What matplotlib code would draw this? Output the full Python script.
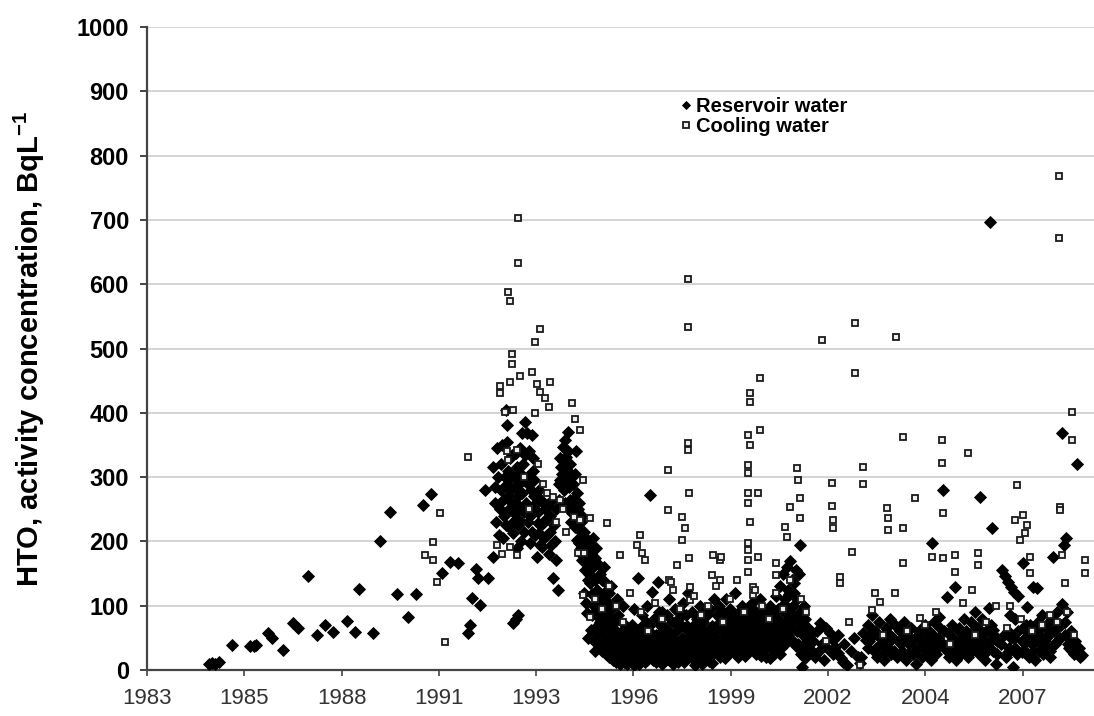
import numpy as np
import matplotlib.pyplot as plt

# ---- data (decimal year, Bq/L) ----
res_early = [(1984.75, 9), (1984.82, 11), (1984.90, 10), (1985.02, 12), (1985.39, 39),
             (1985.90, 37), (1986.02, 38), (1986.08, 39), (1986.40, 58), (1986.52, 50),
             (1986.83, 31), (1987.10, 73), (1987.25, 65), (1987.53, 146), (1987.79, 54),
             (1988.00, 70), (1988.23, 59), (1988.63, 76), (1988.85, 59), (1988.97, 126),
             (1989.37, 57), (1989.56, 200), (1989.85, 246), (1990.03, 119), (1990.34, 82),
             (1990.57, 118), (1990.77, 257), (1991.00, 274), (1991.30, 151), (1991.53, 168),
             (1991.75, 166), (1992.03, 58), (1992.09, 70), (1992.15, 112), (1992.26, 157),
             (1992.31, 143), (1992.37, 101), (1992.60, 143), (1992.74, 176), (1992.51, 280),
             (1993.30, 73), (1993.44, 86), (1993.37, 80)]

res_peak = [(1992.75, 316), (1992.80, 260), (1992.83, 230), (1992.88, 300), (1992.92, 250),
            (1992.95, 280), (1993.00, 350), (1993.02, 205), (1993.05, 240), (1993.10, 404),
            (1993.12, 381), (1993.14, 290), (1993.17, 270), (1993.19, 222), (1993.22, 330),
            (1993.25, 300), (1993.28, 260), (1993.30, 213), (1993.33, 244), (1993.36, 285),
            (1993.38, 337), (1993.41, 190), (1993.44, 270), (1993.47, 233), (1993.50, 306),
            (1993.53, 250), (1993.56, 369), (1993.58, 295), (1993.61, 215), (1993.64, 386),
            (1993.67, 260), (1993.70, 369), (1993.73, 290), (1993.78, 198), (1993.79, 240),
            (1993.82, 365), (1993.85, 310), (1993.88, 270), (1993.91, 249), (1993.97, 176),
            (1993.99, 229), (1994.02, 213), (1994.04, 280), (1994.08, 264), (1994.12, 191),
            (1994.16, 230), (1994.20, 250), (1994.25, 210), (1994.30, 180), (1994.35, 240),
            (1994.40, 265), (1994.43, 143), (1994.47, 200), (1994.50, 171), (1994.57, 124),
            (1994.60, 264), (1994.63, 295), (1994.66, 316), (1994.70, 347), (1994.73, 280),
            (1994.76, 358), (1994.79, 331), (1994.82, 311), (1994.85, 370), (1994.88, 285),
            (1994.91, 264), (1994.94, 300), (1994.97, 244), (1995.00, 264), (1995.03, 222),
            (1995.06, 340), (1995.09, 202), (1995.12, 250), (1995.15, 198), (1995.18, 182),
            (1995.21, 230), (1995.25, 171), (1995.28, 210), (1995.32, 156), (1995.36, 190),
            (1995.40, 140), (1995.44, 175)]

res_peak_extra = [(1992.78, 285), (1992.86, 345), (1992.90, 210), (1992.97, 320), (1993.03, 265),
                  (1993.07, 300), (1993.09, 225), (1993.13, 355), (1993.16, 310), (1993.20, 250),
                  (1993.24, 280), (1993.27, 335), (1993.31, 230), (1993.34, 300), (1993.37, 260),
                  (1993.40, 315), (1993.43, 225), (1993.46, 290), (1993.49, 345), (1993.52, 200),
                  (1993.55, 275), (1993.59, 320), (1993.62, 245), (1993.65, 335), (1993.69, 300),
                  (1993.72, 230), (1993.75, 340), (1993.81, 280), (1993.84, 215), (1993.87, 330),
                  (1993.90, 295), (1993.93, 210), (1993.96, 260), (1994.01, 245), (1994.05, 195),
                  (1994.10, 225), (1994.14, 260), (1994.18, 205), (1994.23, 235), (1994.28, 255),
                  (1994.33, 215), (1994.38, 195), (1994.45, 225), (1994.52, 250), (1994.58, 290),
                  (1994.62, 330), (1994.68, 305), (1994.72, 325), (1994.75, 260), (1994.80, 295),
                  (1994.84, 340), (1994.87, 250), (1994.90, 320), (1994.93, 230), (1994.98, 290),
                  (1995.02, 250), (1995.05, 305), (1995.08, 235), (1995.11, 275), (1995.14, 220),
                  (1995.17, 260), (1995.20, 190), (1995.24, 240), (1995.27, 195), (1995.31, 215),
                  (1995.35, 170), (1995.38, 200), (1995.42, 160)]

res_tail = [(1995.30, 120), (1995.35, 105), (1995.38, 89), (1995.41, 50), (1995.45, 150),
            (1995.48, 135), (1995.50, 62), (1995.52, 118), (1995.55, 160), (1995.58, 100),
            (1995.60, 140), (1995.63, 85), (1995.66, 125), (1995.68, 70), (1995.70, 110),
            (1995.73, 95), (1995.76, 145), (1995.78, 60), (1995.80, 100), (1995.83, 80),
            (1995.86, 120), (1995.88, 45), (1995.90, 90), (1995.93, 70), (1995.96, 105),
            (1995.98, 35), (1996.00, 80), (1996.03, 55), (1996.06, 95), (1996.08, 30),
            (1996.10, 65), (1996.13, 45), (1996.16, 75), (1996.18, 25), (1996.20, 55),
            (1996.23, 40), (1996.26, 85), (1996.28, 20), (1996.30, 50), (1996.33, 35),
            (1996.36, 60), (1996.38, 18), (1996.40, 45), (1996.43, 28), (1996.46, 70),
            (1996.48, 15), (1996.50, 40), (1996.53, 25), (1996.56, 55), (1996.58, 20),
            (1995.62, 175), (1995.85, 160), (1996.05, 130), (1996.22, 110), (1996.40, 100),
            (1995.46, 195), (1995.50, 180), (1995.54, 205), (1995.57, 170), (1995.64, 190),
            (1995.70, 165), (1995.74, 150), (1995.80, 140), (1995.92, 135), (1996.00, 120)]

res_1996_1999 = [(1996.60, 45), (1996.63, 20), (1996.65, 70), (1996.68, 30), (1996.70, 95),
                 (1996.73, 15), (1996.75, 55), (1996.78, 25), (1996.82, 143), (1996.84, 40),
                 (1996.85, 10), (1996.88, 65), (1996.90, 30), (1996.93, 85), (1996.95, 20),
                 (1996.98, 50), (1997.00, 12), (1997.03, 75), (1997.05, 35), (1997.08, 100),
                 (1997.10, 22), (1997.13, 60), (1997.15, 272), (1997.18, 30), (1997.20, 121),
                 (1997.23, 45), (1997.25, 15), (1997.28, 80), (1997.30, 35), (1997.33, 55),
                 (1997.35, 18), (1997.38, 137), (1997.40, 40), (1997.43, 70), (1997.45, 25),
                 (1997.48, 90), (1997.50, 10), (1997.53, 50), (1997.55, 30), (1997.58, 65),
                 (1997.60, 20), (1997.63, 85), (1997.65, 40), (1997.68, 110), (1997.70, 15),
                 (1997.73, 55), (1997.75, 30), (1997.78, 75), (1997.80, 45), (1997.83, 20),
                 (1997.85, 95), (1997.88, 35), (1997.90, 60), (1997.93, 12), (1997.95, 80),
                 (1997.98, 40), (1998.00, 25), (1998.03, 70), (1998.05, 50), (1998.08, 105),
                 (1998.10, 30), (1998.13, 65), (1998.15, 18), (1998.18, 85), (1998.20, 45),
                 (1998.23, 120), (1998.25, 35), (1998.28, 60), (1998.30, 20), (1998.33, 90),
                 (1998.35, 40), (1998.38, 70), (1998.40, 15), (1998.43, 55), (1998.45, 30),
                 (1998.48, 80), (1998.50, 50), (1998.53, 25), (1998.55, 100), (1998.58, 40),
                 (1998.60, 65), (1998.63, 10), (1998.65, 75), (1998.68, 35), (1998.70, 55),
                 (1998.73, 20), (1998.75, 85), (1998.78, 45), (1998.80, 60), (1998.83, 30),
                 (1998.85, 95), (1998.88, 50), (1998.90, 11), (1998.93, 25), (1998.95, 110),
                 (1998.98, 40)]

res_1999_2001 = [(1999.00, 60), (1999.03, 30), (1999.05, 85), (1999.08, 45), (1999.10, 100),
                 (1999.13, 20), (1999.15, 70), (1999.18, 50), (1999.20, 90), (1999.23, 35),
                 (1999.25, 65), (1999.28, 110), (1999.30, 40), (1999.33, 80), (1999.35, 25),
                 (1999.38, 55), (1999.40, 95), (1999.43, 45), (1999.45, 70), (1999.48, 30),
                 (1999.50, 85), (1999.53, 60), (1999.55, 120), (1999.58, 40), (1999.60, 75),
                 (1999.63, 20), (1999.65, 55), (1999.68, 90), (1999.70, 35), (1999.73, 65),
                 (1999.75, 100), (1999.78, 45), (1999.80, 80), (1999.83, 25), (1999.85, 60),
                 (1999.88, 95), (1999.90, 40), (1999.93, 70), (1999.95, 30), (1999.98, 85),
                 (2000.00, 50), (2000.03, 105), (2000.05, 35), (2000.08, 75), (2000.10, 55),
                 (2000.13, 90), (2000.15, 25), (2000.18, 65), (2000.20, 45), (2000.23, 80),
                 (2000.25, 110), (2000.28, 40), (2000.30, 70), (2000.33, 30), (2000.35, 95),
                 (2000.38, 55), (2000.40, 75), (2000.43, 20), (2000.45, 60), (2000.48, 85),
                 (2000.50, 45), (2000.53, 100), (2000.55, 35), (2000.58, 70), (2000.60, 50),
                 (2000.63, 90), (2000.65, 25), (2000.68, 65), (2000.70, 115), (2000.73, 40),
                 (2000.75, 80), (2000.78, 55), (2000.80, 130), (2000.83, 35), (2000.85, 95),
                 (2000.88, 60), (2000.90, 150), (2000.93, 45), (2000.95, 110), (2000.98, 75),
                 (2001.00, 160), (2001.03, 55), (2001.05, 125), (2001.08, 90), (2001.10, 170),
                 (2001.13, 65), (2001.15, 140), (2001.18, 100), (2001.20, 120), (2001.23, 80),
                 (2001.25, 155), (2001.28, 60), (2001.30, 110), (2001.33, 40), (2001.38, 194),
                 (2001.38, 90), (2001.40, 70), (2001.43, 5), (2001.45, 55), (2001.48, 100),
                 (2001.50, 35), (2001.53, 80), (2001.55, 50), (2001.58, 25), (2001.60, 65),
                 (2001.63, 40), (2001.66, 55), (2001.70, 30)]

res_low_extra = [(1995.52, 85), (1995.57, 45), (1995.61, 30), (1995.65, 100), (1995.69, 55),
                 (1995.72, 40), (1995.75, 75), (1995.79, 30), (1995.82, 115), (1995.87, 65),
                 (1995.91, 25), (1995.94, 50), (1995.97, 85), (1996.01, 20), (1996.04, 40),
                 (1996.07, 60), (1996.11, 15), (1996.14, 30), (1996.17, 50), (1996.21, 12),
                 (1996.24, 28), (1996.27, 45), (1996.31, 10), (1996.34, 22), (1996.37, 38),
                 (1996.41, 12), (1996.44, 30), (1996.47, 52), (1996.51, 10), (1996.54, 35),
                 (1996.57, 62), (1996.61, 14), (1996.64, 38), (1996.67, 52), (1996.71, 8),
                 (1996.74, 40), (1996.77, 62), (1996.81, 18), (1996.86, 48), (1996.91, 22),
                 (1996.96, 38), (1997.01, 58), (1997.06, 16), (1997.11, 44), (1997.16, 70),
                 (1997.21, 30), (1997.26, 52), (1997.31, 12), (1997.36, 42), (1997.41, 90),
                 (1997.46, 22), (1997.51, 62), (1997.56, 14), (1997.61, 40), (1997.66, 60),
                 (1997.71, 28), (1997.76, 50), (1997.81, 10), (1997.86, 35), (1997.91, 72),
                 (1997.96, 18), (1998.01, 42), (1998.06, 88), (1998.11, 12), (1998.16, 48),
                 (1998.21, 68), (1998.26, 22), (1998.31, 40), (1998.36, 58), (1998.41, 8),
                 (1998.46, 32), (1998.51, 65), (1998.56, 18), (1998.61, 45), (1998.66, 90),
                 (1998.71, 28), (1998.76, 52), (1998.81, 14), (1998.86, 40), (1998.91, 68),
                 (1998.96, 30), (1999.02, 50), (1999.07, 72), (1999.12, 25), (1999.17, 45),
                 (1999.22, 62), (1999.27, 18), (1999.32, 55), (1999.37, 78), (1999.42, 28),
                 (1999.47, 50), (1999.52, 40), (1999.57, 65), (1999.62, 88), (1999.67, 30),
                 (1999.72, 48), (1999.77, 70), (1999.82, 22), (1999.87, 52), (1999.92, 80),
                 (1999.97, 35), (2000.02, 60), (2000.07, 92), (2000.12, 30), (2000.17, 50),
                 (2000.22, 72), (2000.27, 22), (2000.32, 55), (2000.37, 85), (2000.42, 38),
                 (2000.47, 62), (2000.52, 18), (2000.57, 48), (2000.62, 78), (2000.67, 40),
                 (2000.72, 58), (2000.77, 95), (2000.82, 25), (2000.87, 70), (2000.92, 102),
                 (2000.97, 42), (2001.02, 85), (2001.07, 118), (2001.12, 48), (2001.17, 80),
                 (2001.22, 135), (2001.27, 38), (2001.32, 75), (2001.36, 150), (2001.41, 25),
                 (2001.46, 72), (2001.51, 18), (2001.56, 45)]

res_2001_2003 = [(2001.75, 45), (2001.80, 20), (2001.85, 60), (2001.90, 30), (2001.94, 73),
                 (2002.00, 40), (2002.05, 15), (2002.10, 65), (2002.15, 35), (2002.22, 58),
                 (2002.30, 47), (2002.37, 36), (2002.44, 26), (2002.52, 19), (2002.58, 12),
                 (2002.30, 25), (2002.45, 55), (2002.62, 40), (2002.70, 8), (2002.80, 30),
                 (2002.90, 50), (2003.00, 20), (2003.06, 11), (2003.10, 20), (2003.15, 58),
                 (2003.22, 47), (2003.28, 34)]

res_2003_2009 = [(2003.30, 70), (2003.35, 50), (2003.40, 85), (2003.45, 30), (2003.50, 60),
                 (2003.55, 20), (2003.60, 75), (2003.65, 40), (2003.70, 55), (2003.75, 15),
                 (2003.80, 65), (2003.85, 35), (2003.90, 80), (2003.95, 25), (2004.00, 50),
                 (2004.05, 70), (2004.10, 20), (2004.15, 45), (2004.20, 60), (2004.25, 30),
                 (2004.30, 75), (2004.35, 15), (2004.40, 55), (2004.45, 40), (2004.50, 65),
                 (2004.55, 25), (2004.60, 50), (2004.65, 10), (2004.70, 35), (2004.75, 55),
                 (2004.80, 20), (2004.85, 45), (2004.90, 70), (2004.95, 30), (2005.00, 60),
                 (2005.05, 15), (2005.09, 198), (2005.10, 40), (2005.15, 75), (2005.20, 25),
                 (2005.25, 50), (2005.30, 82), (2005.33, 65), (2005.40, 280), (2005.45, 35),
                 (2005.51, 114), (2005.55, 58), (2005.58, 20), (2005.62, 45), (2005.66, 70),
                 (2005.70, 30), (2005.74, 129), (2005.78, 15), (2005.82, 40), (2005.86, 65),
                 (2005.90, 25), (2005.94, 50), (2005.98, 80), (2006.02, 35), (2006.06, 60),
                 (2006.10, 20), (2006.14, 45), (2006.18, 75), (2006.22, 30), (2006.26, 55),
                 (2006.30, 90), (2006.34, 40), (2006.38, 65), (2006.42, 25), (2006.44, 269),
                 (2006.46, 50), (2006.50, 80), (2006.54, 35), (2006.58, 15), (2006.62, 60),
                 (2006.66, 40), (2006.70, 96), (2006.72, 697), (2006.74, 70), (2006.78, 221),
                 (2006.80, 30), (2006.84, 55), (2006.88, 10), (2006.92, 45), (2007.05, 155),
                 (2007.14, 146), (2007.23, 137), (2007.32, 129), (2007.41, 121), (2007.50, 115),
                 (2007.18, 20), (2007.22, 60), (2007.26, 35), (2007.30, 85), (2007.36, 5),
                 (2007.40, 50), (2007.44, 80), (2007.65, 166), (2007.48, 25), (2007.76, 98),
                 (2007.93, 129), (2008.04, 127), (2007.62, 45), (2007.66, 65), (2007.70, 30),
                 (2007.74, 70), (2007.78, 55), (2007.82, 20), (2007.86, 70), (2007.90, 40),
                 (2007.94, 60), (2007.98, 15), (2008.02, 50), (2008.06, 75), (2008.10, 30),
                 (2008.14, 55), (2008.18, 85), (2008.22, 25), (2008.26, 45), (2008.30, 70),
                 (2008.34, 35), (2008.38, 60), (2008.42, 20), (2008.46, 80), (2008.49, 176),
                 (2008.54, 40), (2008.58, 65), (2008.62, 90), (2008.75, 103), (2008.70, 50),
                 (2008.80, 195), (2008.85, 205), (2008.75, 368), (2008.82, 75), (2008.88, 90),
                 (2008.92, 55), (2008.96, 35), (2009.00, 60), (2009.05, 45), (2009.10, 25),
                 (2009.15, 30), (2009.17, 320), (2009.25, 20), (2009.30, 23)]

res_late_extra = [(2003.32, 45), (2003.42, 60), (2003.52, 35), (2003.62, 50), (2003.72, 25),
                  (2003.82, 40), (2003.92, 55), (2004.02, 30), (2004.12, 65), (2004.22, 40),
                  (2004.32, 52), (2004.42, 25), (2004.52, 45), (2004.62, 30), (2004.72, 60),
                  (2004.82, 38), (2004.92, 50), (2005.02, 28), (2005.12, 55), (2005.22, 35),
                  (2005.32, 45), (2005.42, 60), (2005.52, 30), (2005.62, 25), (2005.72, 48),
                  (2005.82, 62), (2005.92, 35), (2006.02, 55), (2006.12, 30), (2006.22, 48),
                  (2006.32, 65), (2006.42, 38), (2006.52, 55), (2006.62, 28), (2006.72, 45),
                  (2006.82, 62), (2006.92, 25), (2007.02, 40), (2007.12, 55), (2007.22, 28),
                  (2007.32, 50), (2007.42, 35), (2007.52, 60), (2007.62, 28), (2007.72, 42),
                  (2007.82, 58), (2007.92, 30), (2008.02, 45), (2008.12, 65), (2008.22, 38),
                  (2008.32, 52), (2008.42, 30), (2008.52, 60), (2008.62, 45), (2008.72, 70),
                  (2008.82, 55), (2008.92, 40), (2009.02, 30), (2009.12, 45), (2009.22, 35)]

cool_peak = [(1990.82, 179), (1991.05, 171), (1991.05, 199), (1991.17, 137), (1991.24, 244),
             (1991.39, 44), (1992.03, 331), (1993.44, 703), (1993.44, 633), (1993.16, 588),
             (1993.21, 574), (1994.06, 530), (1993.92, 510), (1993.27, 491), (1993.27, 476),
             (1993.83, 463), (1993.50, 457), (1993.21, 448), (1992.93, 442), (1992.93, 431),
             (1993.97, 445), (1994.06, 432), (1994.20, 423), (1994.31, 409), (1994.34, 448),
             (1994.96, 415), (1995.04, 390), (1995.18, 373), (1993.30, 404), (1993.07, 401),
             (1993.92, 400), (1993.21, 191), (1993.41, 179), (1993.13, 341), (1993.41, 342),
             (1993.16, 327), (1994.26, 275), (1994.43, 269), (1994.62, 264), (1995.02, 238),
             (1995.18, 233), (1995.27, 295), (1995.14, 182), (1995.31, 182), (1995.27, 117),
             (1995.47, 82), (1993.60, 300), (1993.75, 250), (1994.00, 320), (1994.15, 290),
             (1994.50, 230), (1994.70, 250), (1994.80, 215), (1993.00, 180), (1992.85, 195)]

cool_mid = [(1995.47, 236), (1995.94, 229), (1996.31, 179), (1996.87, 210), (1996.79, 194),
            (1996.93, 182), (1997.02, 171), (1997.66, 311), (1997.66, 249), (1998.22, 353),
            (1998.22, 342), (1998.25, 275), (1998.05, 238), (1998.13, 221), (1998.05, 202),
            (1998.25, 174), (1997.91, 163), (1997.69, 140), (1997.75, 137), (1998.28, 129),
            (1998.28, 109), (1998.22, 608), (1998.22, 533), (1998.93, 179), (1999.12, 171),
            (1999.15, 176), (1998.90, 148), (1999.12, 140), (1999.97, 431), (1999.97, 417),
            (2000.25, 454), (2000.25, 373), (1999.92, 365), (1999.97, 350), (1999.92, 319),
            (1999.92, 306), (1999.92, 275), (1999.92, 260), (2000.20, 275), (1999.97, 230),
            (1999.92, 198), (1999.92, 187), (2000.20, 176), (1999.92, 171), (1999.92, 152),
            (2000.05, 129), (2000.05, 117), (2000.70, 166), (2000.70, 148), (2001.29, 314),
            (2001.32, 295), (2001.38, 267), (2001.10, 253), (2000.95, 222), (2001.38, 236),
            (2001.00, 207)]

cool_late = [(2002.00, 513), (2002.27, 291), (2002.27, 255), (2002.30, 233), (2002.30, 221),
             (2002.84, 184), (2002.50, 145), (2002.50, 135), (2002.92, 540), (2002.92, 462),
             (2003.15, 316), (2003.15, 289), (2002.75, 75), (2003.06, 8), (2003.82, 252),
             (2003.85, 236), (2003.85, 218), (2004.27, 221), (2004.08, 518), (2004.27, 362),
             (2004.61, 267), (2004.27, 166), (2004.05, 120), (2003.63, 106), (2003.40, 93),
             (2004.75, 81), (2005.37, 358), (2005.37, 322), (2005.40, 244), (2005.40, 174),
             (2005.09, 176), (2005.74, 179), (2005.74, 152), (2006.10, 337), (2006.38, 182),
             (2006.38, 163), (2006.22, 124), (2005.96, 104), (2007.48, 288), (2007.42, 233),
             (2007.65, 241), (2007.76, 225), (2007.70, 213), (2007.57, 202), (2007.28, 100),
             (2007.85, 176), (2007.85, 151), (2008.66, 768), (2008.66, 672), (2009.03, 402),
             (2009.03, 358), (2008.69, 253), (2008.69, 249), (2008.76, 179), (2008.83, 135),
             (2009.40, 171), (2009.40, 151)]

cool_low = [(1995.60, 110), (1995.80, 95), (1996.00, 130), (1996.20, 100), (1996.40, 75),
            (1996.60, 120), (1996.90, 90), (1997.10, 60), (1997.30, 105), (1997.50, 80),
            (1997.80, 125), (1998.00, 95), (1998.40, 115), (1998.60, 85), (1998.80, 100),
            (1999.00, 130), (1999.20, 75), (1999.40, 110), (1999.60, 140), (1999.80, 90),
            (2000.10, 125), (2000.30, 100), (2000.50, 80), (2000.70, 120), (2000.90, 95),
            (2001.10, 140), (2001.40, 110), (2001.55, 90), (2002.10, 45), (2003.50, 120),
            (2003.70, 55), (2004.40, 60), (2004.90, 70), (2005.20, 90), (2005.60, 40),
            (2006.30, 55), (2006.60, 75), (2006.90, 100), (2007.20, 65), (2007.60, 80),
            (2007.90, 60), (2008.20, 70), (2008.40, 85), (2008.60, 75), (2008.90, 90),
            (2009.10, 55)]

x_tick_labels = ['1983', '1985', '1988', '1991', '1993', '1996', '1999', '2002', '2004', '2007']

reservoir = (res_early + res_peak + res_peak_extra + res_tail + res_1996_1999 + res_1999_2001
             + res_low_extra + res_2001_2003 + res_2003_2009 + res_late_extra)
cooling = cool_peak + cool_mid + cool_late + cool_low
res_x, res_y = zip(*reservoir)
cool_x, cool_y = zip(*cooling)

plt.rcParams['font.family'] = ['Liberation Sans', 'DejaVu Sans']
plt.rcParams['mathtext.fontset'] = 'custom'
plt.rcParams['mathtext.rm'] = 'Liberation Sans:bold'
plt.rcParams['mathtext.it'] = 'Liberation Sans:bold'
plt.rcParams['mathtext.bf'] = 'Liberation Sans:bold'

fig = plt.figure(figsize=(10.94, 7.16), dpi=100)
ax = fig.add_axes([0.1344, 0.0642, 0.8656, 0.8981])

ax.plot(res_x, res_y, linestyle='none', marker='D', ms=5.8, mfc='black', mec='black',
        mew=0.6, label='Reservoir water', zorder=3)
ax.plot(cool_x, cool_y, linestyle='none', marker='s', ms=5.0, mfc='#eeeeee', mec='#1a1a1a',
        mew=1.3, label='Cooling water', zorder=4)

# Excel date axis: major unit of 1000 days from 1 Jan 1983
ticks = [1983 + k * 1000 / 365.25 for k in range(len(x_tick_labels))]
ax.set_xticks(ticks)
ax.set_xticklabels(x_tick_labels)
ax.set_xlim(1983, 2009.65)
ax.set_ylim(0, 1000)
ax.set_yticks(np.arange(0, 1001, 100))

ax.yaxis.grid(True, color='#d4d4d4', linewidth=1.4)
ax.set_axisbelow(True)
for s in ['top', 'right']:
    ax.spines[s].set_visible(False)
for s in ['left', 'bottom']:
    ax.spines[s].set_color('#444444')
    ax.spines[s].set_linewidth(1.6)

ax.tick_params(axis='y', length=5, width=1.4, color='#444444', pad=8, labelsize=17)
ax.tick_params(axis='x', length=4, width=1.2, color='#444444', pad=9, labelsize=16,
               labelcolor='#333333')
for lab in ax.get_yticklabels():
    lab.set_fontweight('bold')

ax.set_ylabel('HTO, activity concentration, BqL$^{-1}$', fontsize=21, fontweight='bold')
ax.yaxis.set_label_coords(-0.106, 0.5)

leg = ax.legend(loc='upper left', bbox_to_anchor=(0.555, 0.903), frameon=False,
                handlelength=0.5, handletextpad=0.25, labelspacing=0.05, borderaxespad=0,
                prop={'size': 14.5, 'weight': 'bold'}, markerscale=0.75)

fig.savefig('out.png', dpi=100)
